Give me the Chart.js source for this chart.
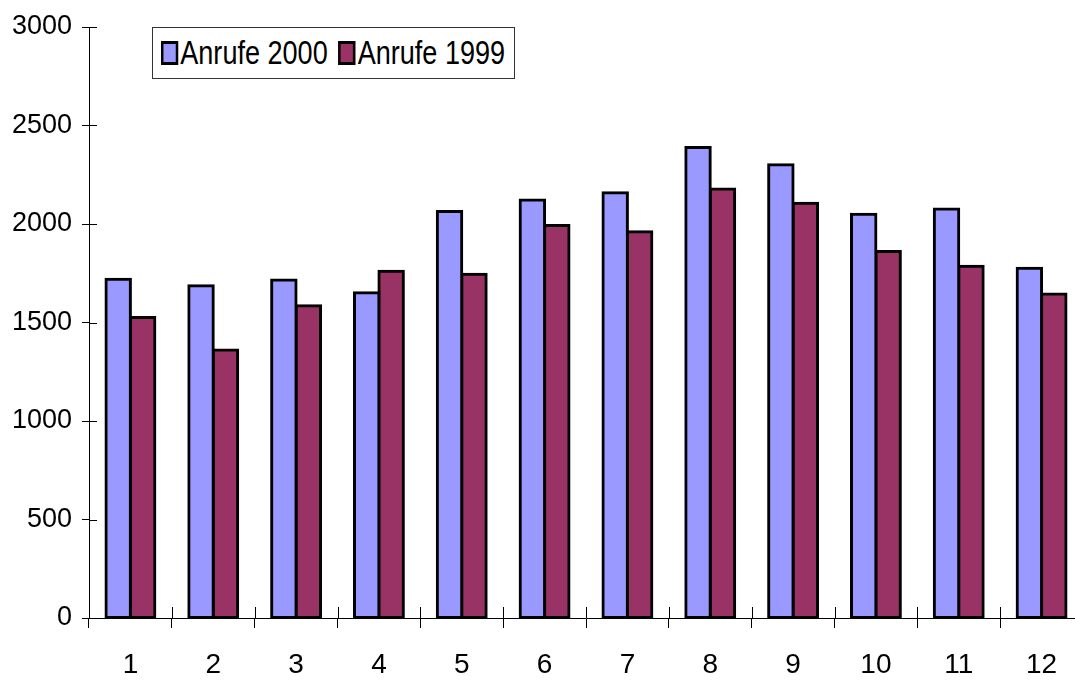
<!DOCTYPE html>
<html>
<head>
<meta charset="utf-8">
<script src="https://cdn.jsdelivr.net/npm/chart.js@4.4.1/dist/chart.umd.min.js"></script>
<style>
  html, body { margin: 0; padding: 0; background: #fff; overflow: hidden; }
  #wrap { position: relative; width: 1090px; height: 680px; }
  .legend {
    position: absolute; left: 152px; top: 27px; width: 363px; height: 52px;
    box-sizing: border-box; border: 1px solid #333; background: #fff;
    padding-left: 8px; overflow: hidden;
    font-family: 'Liberation Sans', Arial, sans-serif;
    font-size: 33px; color: #000; white-space: nowrap;
  }
  /* source font is a narrow face: squeeze the row horizontally */
  .legend .row {
    display: flex; align-items: center; height: 100%;
    transform: scaleX(0.82); transform-origin: left center;
  }
  .legend .item { display: flex; align-items: center; margin-right: 13px; }
  .legend .sw {
    width: 21px; height: 24px; box-sizing: border-box;
    border: 3px solid #000; border-left-width: 3.6px; border-right-width: 3.6px;
    margin-right: 2.5px;
  }
</style>
</head>
<body>
<div id="wrap">
  <canvas id="chart"></canvas>
  <div class="legend"><div class="row" id="legend"></div></div>
</div>
<script>
  // ── Data ────────────────────────────────────────────────────────────────
  const months     = ['1', '2', '3', '4', '5', '6', '7', '8', '9', '10', '11', '12'];
  const calls2000  = [1719, 1687, 1716, 1651, 2063, 2122, 2159, 2388, 2301, 2049, 2076, 1775];
  const calls1999  = [1526, 1360, 1585, 1760, 1745, 1992, 1961, 2178, 2105, 1861, 1785, 1645];
  const seriesNames = ['Anrufe 2000', 'Anrufe 1999'];
  const seriesColours = ['#9999ff', '#993366'];

  const FONT = "'Liberation Sans', Arial, sans-serif";

  // Ticks that cross the axis line (library only draws the outer half)
  const crossTicks = {
    id: 'crossTicks',
    afterDraw(chart) {
      const { ctx, chartArea, scales: { x, y } } = chart;
      ctx.save();
      ctx.strokeStyle = '#000';
      ctx.lineWidth = 1;
      ctx.beginPath();
      y.ticks.forEach((t, i) => {
        const py = Math.round(y.getPixelForTick(i)) + 0.5;
        ctx.moveTo(chartArea.left, py);
        ctx.lineTo(chartArea.left + 8, py);
      });
      for (let i = 0; i <= months.length; i++) {
        const px = Math.round(x.getPixelForValue(i - 0.5)) + 0.5;
        ctx.moveTo(px, chartArea.bottom);
        ctx.lineTo(px, chartArea.bottom - 11);
      }
      ctx.stroke();
      ctx.restore();
    },
  };

  new Chart(document.getElementById('chart'), {
    type: 'bar',
    data: {
      labels: months,
      datasets: [
        { label: seriesNames[0], data: calls2000, backgroundColor: seriesColours[0] },
        { label: seriesNames[1], data: calls1999, backgroundColor: seriesColours[1] },
      ],
    },
    options: {
      responsive: true,
      maintainAspectRatio: false,
      animation: false,
      layout: { padding: { top: 27, right: 7, left: 0, bottom: 0 } },
      datasets: {
        bar: {
          categoryPercentage: 0.59,
          barPercentage: 1.0,
          borderColor: '#000',
          borderWidth: 3,
          borderSkipped: false,
          inflateAmount: 1.5,
        },
      },
      plugins: {
        legend: { display: false },
        tooltip: { enabled: false },
      },
      scales: {
        x: {
          afterFit: s => { s.height = 62; },
          grid: { drawOnChartArea: false, offset: true, tickLength: 10, color: '#000' },
          border: { color: '#000', width: 1 },
          ticks: { color: '#000', font: { family: FONT, size: 28 }, padding: 20, maxRotation: 0 },
        },
        y: {
          min: 0, max: 3000,
          afterFit: s => { s.width = 89; },
          grid: { drawOnChartArea: false, tickLength: 7, color: '#000' },
          border: { color: '#000', width: 1 },
          ticks: {
            stepSize: 500, color: '#000', padding: 10,
            font: { family: FONT, size: 27 },
            callback: v => String(v),
          },
        },
      },
    },
    plugins: [crossTicks],
  });

  // ── Legend (framed box, top left of plot) ───────────────────────────────
  document.getElementById('legend').innerHTML = seriesNames.map((n, i) =>
    `<span class="item"><span class="sw" style="background:${seriesColours[i]}"></span>${n}</span>`
  ).join('');
</script>
</body>
</html>
